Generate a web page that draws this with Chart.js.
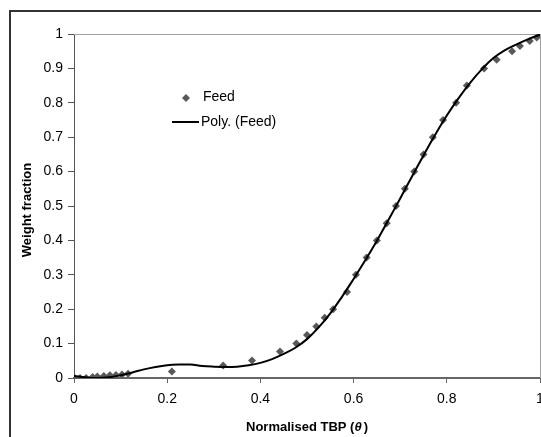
<!DOCTYPE html>
<html>
<head>
<meta charset="utf-8">
<script src="https://cdn.jsdelivr.net/npm/chart.js@4.4.0/dist/chart.umd.min.js"></script>
<style>
  html, body { margin: 0; padding: 0; background: #fff; overflow: hidden; }
  #chart { display: block; }
</style>
</head>
<body>
<canvas id="chart" width="560" height="450"></canvas>
<script>
// Feed points (normalised TBP vs weight fraction)
var feedTheta = [0, 0.013, 0.026, 0.04, 0.05, 0.064, 0.077, 0.09, 0.103, 0.116,
  0.21, 0.32, 0.382, 0.442, 0.477, 0.5, 0.52, 0.538, 0.556, 0.586,
  0.605, 0.628, 0.65, 0.671, 0.691, 0.71, 0.73, 0.75, 0.77, 0.792,
  0.82, 0.843, 0.88, 0.907, 0.94, 0.957, 0.978, 0.993, 1.0];
var feedWeight = [0.002, 0.0, 0.0, 0.003, 0.004, 0.006, 0.008, 0.009, 0.01, 0.012,
  0.019, 0.036, 0.051, 0.077, 0.1, 0.125, 0.15, 0.175, 0.2, 0.25,
  0.3, 0.35, 0.4, 0.45, 0.5, 0.55, 0.6, 0.65, 0.7, 0.75,
  0.8, 0.85, 0.9, 0.925, 0.95, 0.965, 0.98, 0.99, 1.0];

// Poly. (Feed) trend line
var polyTheta = [0, 0.025, 0.05, 0.075, 0.1, 0.125, 0.15, 0.175, 0.2, 0.225,
  0.25, 0.275, 0.3, 0.325, 0.35, 0.375, 0.4, 0.425, 0.45, 0.475,
  0.5, 0.525, 0.55, 0.575, 0.6, 0.625, 0.65, 0.675, 0.7, 0.725,
  0.75, 0.775, 0.8, 0.825, 0.85, 0.875, 0.9, 0.925, 0.95, 0.975, 1.0];
var polyWeight = [0.006, 0.002, 0.0, 0.002, 0.008, 0.016, 0.025, 0.032, 0.037, 0.039,
  0.039, 0.035, 0.033, 0.032, 0.033, 0.037, 0.044, 0.055, 0.07, 0.088,
  0.113, 0.147, 0.188, 0.236, 0.288, 0.342, 0.399, 0.46, 0.522, 0.585,
  0.647, 0.707, 0.763, 0.813, 0.858, 0.897, 0.93, 0.953, 0.97, 0.985, 0.998];

var seriesNames = ['Feed', 'Poly. (Feed)'];

function pts(xs, ys) {
  return xs.map(function (x, i) { return { x: x, y: ys[i] }; });
}

var FONT = "'Liberation Sans', Arial, sans-serif";

var decor = {
  id: 'decor',
  beforeDraw: function (chart) {
    var c = chart.ctx;
    c.save();
    c.fillStyle = '#fff';
    c.fillRect(0, 0, chart.width, chart.height);
    c.restore();
  },
  beforeDatasetsDraw: function (chart) {
    var c = chart.ctx, a = chart.chartArea;
    c.save();
    c.strokeStyle = '#a0a0a0';
    c.lineWidth = 1;
    c.beginPath();
    c.moveTo(a.left, a.top + 0.5);
    c.lineTo(a.right + 0.5, a.top + 0.5);
    c.lineTo(a.right + 0.5, a.bottom);
    c.stroke();
    c.restore();
  },
  afterDraw: function (chart) {
    var c = chart.ctx;
    c.save();
    // outer frame
    c.strokeStyle = '#333';
    c.lineWidth = 2;
    c.beginPath();
    c.moveTo(10, chart.height);
    c.lineTo(10, 11);
    c.lineTo(chart.width, 11);
    c.stroke();

    // legend
    c.fillStyle = '#595959';
    c.beginPath();
    c.moveTo(186, 94);
    c.lineTo(190, 98);
    c.lineTo(186, 102);
    c.lineTo(182, 98);
    c.closePath();
    c.fill();
    c.strokeStyle = '#000';
    c.lineWidth = 2;
    c.beginPath();
    c.moveTo(172, 122);
    c.lineTo(199, 122);
    c.stroke();
    c.fillStyle = '#000';
    c.font = '14px ' + FONT;
    c.textBaseline = 'middle';
    c.textAlign = 'left';
    c.fillText(seriesNames[0], 203, 97);
    c.fillText(seriesNames[1], 201, 122);

    // axis titles
    var a = chart.chartArea;
    var parts = [['bold 13px ' + FONT, 'Normalised TBP ('], ['italic bold 13px ' + FONT, '\u03b8'], ['bold 13px ' + FONT, ')']];
    var total = 0;
    parts.forEach(function (p) { c.font = p[0]; total += c.measureText(p[1]).width + (p[1] === ')' ? 2 : 0); });
    var x = (a.left + a.right) / 2 - total / 2;
    parts.forEach(function (p) {
      c.font = p[0];
      if (p[1] === ')') x += 2;
      c.fillText(p[1], x, 427);
      x += c.measureText(p[1]).width;
    });
    c.translate(27, 210);
    c.rotate(-Math.PI / 2);
    c.textAlign = 'center';
    c.font = 'bold 13px ' + FONT;
    c.fillText('Weight fraction', 0, 0);
    c.restore();
  }
};

var ctx = document.getElementById('chart').getContext('2d');
var chart = new Chart(ctx, {
  type: 'scatter',
  data: {
    datasets: [{
      label: seriesNames[0],
      data: pts(feedTheta, feedWeight),
      pointStyle: 'rectRot',
      pointRadius: 4,
      backgroundColor: '#595959',
      borderColor: '#595959',
      borderWidth: 0,
      showLine: false,
      order: 1
    }, {
      label: seriesNames[1],
      data: pts(polyTheta, polyWeight),
      showLine: true,
      pointRadius: 0,
      borderColor: '#000',
      borderWidth: 2,
      tension: 0.4,
      fill: false,
      order: 0
    }]
  },
  options: {
    responsive: false,
    animation: false,
    devicePixelRatio: 1,
    layout: { padding: { left: 10, top: 34, right: 20, bottom: 0 } },
    plugins: {
      legend: { display: false },
      tooltip: { enabled: false }
    },
    scales: {
      x: {
        type: 'linear',
        min: 0, max: 1,
        afterFit: function (s) { s.height = 72; },
        ticks: {
          stepSize: 0.2,
          padding: 8,
          color: '#000',
          font: { family: FONT, size: 14 },
          callback: function (v) { return String(+v.toFixed(1)); }
        },
        grid: { drawOnChartArea: false, tickLength: 5, tickColor: '#666', tickWidth: 1 },
        border: { color: '#666', width: 2 }
      },
      y: {
        min: 0, max: 1,
        afterFit: function (s) { s.width = 64; },
        ticks: {
          stepSize: 0.1,
          padding: 5,
          color: '#000',
          font: { family: FONT, size: 14 },
          callback: function (v) { return String(+v.toFixed(1)); }
        },
        grid: { drawOnChartArea: false, tickLength: 6, tickColor: '#555', tickWidth: 1 },
        border: { color: '#555', width: 1 }
      }
    }
  },
  plugins: [decor]
});
</script>
</body>
</html>
